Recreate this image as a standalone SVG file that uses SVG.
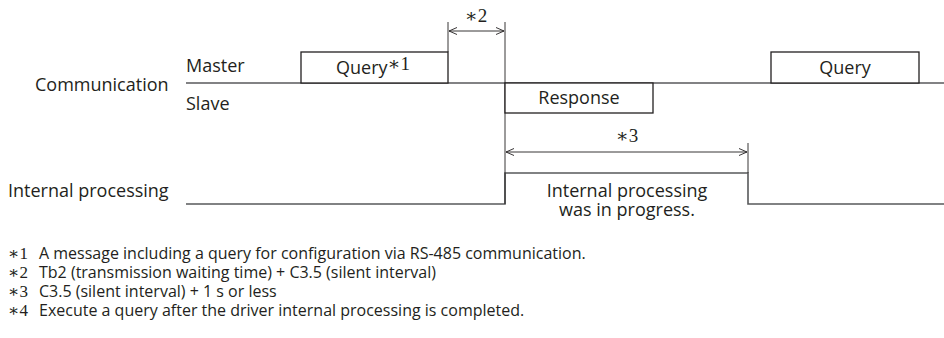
<svg xmlns="http://www.w3.org/2000/svg" width="944" height="338" viewBox="0 0 944 338">
<style>
text{font-family:"Open Sans","Noto Sans","Liberation Sans",sans-serif;font-size:18px;fill:#231f20}
.s{font-family:"Liberation Serif","DejaVu Serif",serif;font-size:19px}
.n{font-size:16px}
.ns{font-family:"Liberation Serif","DejaVu Serif",serif;font-size:17px}
.sig{stroke:#58595b;stroke-width:1.6;fill:none}
.box{stroke:#231f20;stroke-width:1.3;fill:#fff}
.dim{stroke:#231f20;stroke-width:0.9;fill:none}
.m{text-anchor:middle}
</style>
<defs>
<marker id="a" viewBox="-10 -5 12 10" markerWidth="12" markerHeight="10" refX="0" refY="0" orient="auto-start-reverse" markerUnits="userSpaceOnUse">
<path d="M-8,-3.5 L0,0 L-8,3.5" fill="none" stroke="#231f20" stroke-width="0.9"/>
</marker>
</defs>
<g id="labels">
<text x="35" y="91">Communication</text>
<text x="186" y="72">Master</text>
<text x="186" y="110">Slave</text>
<text x="8" y="197">Internal processing</text>
</g>
<g id="connectors">
<path class="sig" d="M186,83 H944"/>
<path class="sig" d="M186,204 H505 V173 H748 V204 H944"/>
<path class="dim" d="M448,22 V52"/>
<path class="dim" d="M505,22 V204"/>
<path class="dim" d="M748,143 V173"/>
<path class="dim" d="M449,31 H504" marker-start="url(#a)" marker-end="url(#a)"/>
<path class="dim" d="M506,152 H747" marker-start="url(#a)" marker-end="url(#a)"/>
<text class="s m" x="476" y="22">∗2</text>
<text class="s m" x="627" y="142">∗3</text>
</g>
<g id="query1">
<rect class="box" x="301" y="52" width="147" height="31"/>
<text x="336" y="74">Query<tspan class="s" dy="-4">∗1</tspan></text>
</g>
<g id="response">
<rect class="box" x="505" y="83" width="148" height="30"/>
<text class="m" x="579" y="104">Response</text>
</g>
<g id="query2">
<rect class="box" x="771" y="52" width="148" height="31"/>
<text class="m" x="845" y="74">Query</text>
</g>
<g id="internal">
<text class="m" x="627" y="197">Internal processing</text>
<text class="m" x="627" y="216">was in progress.</text>
</g>
<g id="notes">
<text class="n" x="8" y="259"><tspan class="ns">∗1</tspan><tspan x="39">A message including a query for configuration via RS-485 communication.</tspan></text>
<text class="n" x="8" y="278"><tspan class="ns">∗2</tspan><tspan x="39">Tb2 (transmission waiting time) + C3.5 (silent interval)</tspan></text>
<text class="n" x="8" y="297"><tspan class="ns">∗3</tspan><tspan x="39">C3.5 (silent interval) + 1 s or less</tspan></text>
<text class="n" x="8" y="316"><tspan class="ns">∗4</tspan><tspan x="39">Execute a query after the driver internal processing is completed.</tspan></text>
</g>
</svg>
